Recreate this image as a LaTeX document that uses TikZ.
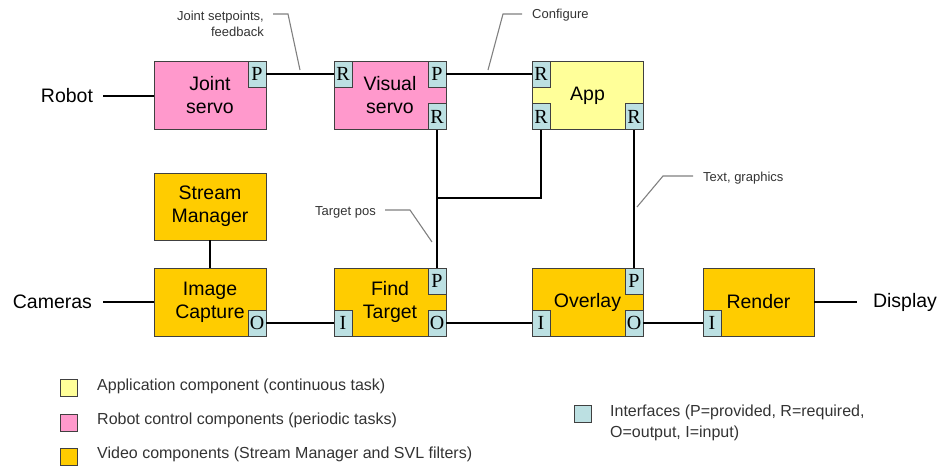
\documentclass[tikz,border=0pt]{standalone}
\usepackage{fontspec}
\setmainfont{Liberation Sans}
\newfontfamily\portfont{Liberation Serif}
\usetikzlibrary{calc}
\definecolor{pinkc}{HTML}{FF99CC}
\definecolor{yellowc}{HTML}{FFFF99}
\definecolor{orangec}{HTML}{FFCC00}
\definecolor{portc}{HTML}{BCE0E2}
\definecolor{boxedge}{HTML}{404040}
\definecolor{calloutc}{HTML}{808080}
\definecolor{legtext}{HTML}{333333}
\begin{document}
\begin{tikzpicture}[x=1pt,y=-1pt,
  comp/.style={draw=boxedge, line width=0.9pt, minimum width=112pt, minimum height=68pt,
    inner sep=0pt, align=center, font=\fontsize{19.5}{23}\selectfont},
  port/.style={draw=boxedge, line width=0.8pt, fill=portc, minimum width=18pt,
    minimum height=26pt, inner sep=0pt, font=\portfont\fontsize{20}{20}\selectfont},
  wire/.style={line width=2pt, black},
  callout/.style={line width=1.1pt, calloutc},
  extlabel/.style={inner sep=0pt, font=\fontsize{19.5}{23}\selectfont},
  clabel/.style={inner sep=0pt, font=\fontsize{13}{16}\selectfont, text=legtext},
  legbox/.style={draw=boxedge, line width=0.8pt, minimum width=17pt, minimum height=17pt, inner sep=0pt},
  legtxt/.style={inner sep=0pt, anchor=west, font=\fontsize{16}{21}\selectfont, text=legtext, align=left}
]
\useasboundingbox (0,0) rectangle (938,466);

% components
\node[comp, fill=pinkc] (js) at (210,95.5) {Joint\\servo};
\node[comp, fill=pinkc] (vs) at (390,95.5) {Visual\\servo};
\node[comp, fill=yellowc, minimum width=111pt] (app) at (587.5,95.5) {App};
\node[comp, fill=orangec, minimum height=67pt] (sm) at (210,206.5) {Stream\\Manager};
\node[comp, fill=orangec] (ic) at (210,302) {Image\\Capture};
\node[comp, fill=orangec] (ft) at (390,302) {Find\\Target};
\node[comp, fill=orangec, minimum width=111pt] (ov) at (587.5,302) {Overlay};
\node[comp, fill=orangec, minimum width=111pt] (rd) at (758.5,302) {Render};

% ports
\node[port, anchor=north east] (jsP) at (js.north east) {P};
\node[port, anchor=north west] (vsR1) at (vs.north west) {R};
\node[port, anchor=north east] (vsP) at (vs.north east) {P};
\node[port, anchor=south east] (vsR2) at (vs.south east) {R};
\node[port, anchor=north west] (appR1) at (app.north west) {R};
\node[port, anchor=south west] (appR2) at (app.south west) {R};
\node[port, anchor=south east] (appR3) at (app.south east) {R};
\node[port, anchor=south east] (icO) at (ic.south east) {O};
\node[port, anchor=north east] (ftP) at (ft.north east) {P};
\node[port, anchor=south west] (ftI) at (ft.south west) {I};
\node[port, anchor=south east] (ftO) at (ft.south east) {O};
\node[port, anchor=north east] (ovP) at (ov.north east) {P};
\node[port, anchor=south west] (ovI) at (ov.south west) {I};
\node[port, anchor=south east] (ovO) at (ov.south east) {O};
\node[port, anchor=south west] (rdI) at (rd.south west) {I};

% external labels
\node[extlabel, anchor=east, outer sep=10pt] (robot) at (103,95.5) {Robot};
\node[extlabel, anchor=east, outer sep=11pt] (cam) at (103,302) {Cameras};
\node[extlabel, anchor=west, outer sep=16pt] (disp) at (857,302) {Display};

% connectors
\draw[wire] (robot.east) -- (robot.east -| js.west);
\draw[wire] (cam.east) -- (cam.east -| ic.west);
\draw[wire] (rd.east) -- (rd.east -| disp.west);
\draw[wire] (jsP.east) -- (vsR1.west);
\draw[wire] (vsP.east) -- (appR1.west);
\draw[wire] (vsR2.south) -- (ftP.north);
\coordinate (jn) at (vsR2.south |- 0,198);
\draw[wire] (appR2.south) |- (jn);
\draw[wire] (appR3.south) -- (ovP.north);
\draw[wire] (sm.south) -- (ic.north);
\draw[wire] (icO.east) -- (ftI.west);
\draw[wire] (ftO.east) -- (ovI.west);
\draw[wire] (ovO.east) -- (rdI.west);

% callouts
\node[clabel, anchor=east, align=right] (cjs) at (264,24) {Joint setpoints,\\feedback};
\coordinate (cjs1) at (273,14); \coordinate (cjs2) at (288,14); \coordinate (cjs3) at (300,70);
\draw[callout] (cjs1) -- (cjs2) -- (cjs3);

\node[clabel, anchor=west] (ccf) at (532,15) {Configure};
\coordinate (ccf1) at (522,14); \coordinate (ccf2) at (503,14); \coordinate (ccf3) at (488,70);
\draw[callout] (ccf1) -- (ccf2) -- (ccf3);

\node[clabel, anchor=west] (ctg) at (703,178) {Text, graphics};
\coordinate (ctg1) at (693,176); \coordinate (ctg2) at (663,176); \coordinate (ctg3) at (637,207);
\draw[callout] (ctg1) -- (ctg2) -- (ctg3);

\node[clabel, anchor=east] (ctp) at (376,212) {Target pos};
\coordinate (ctp1) at (385,210); \coordinate (ctp2) at (410,210); \coordinate (ctp3) at (432,242);
\draw[callout] (ctp1) -- (ctp2) -- (ctp3);

% legend
\node[legbox, fill=yellowc] (lg1) at (68.5,387.5) {};
\node[legtxt] (lt1) at (97,386) {Application component (continuous task)};
\node[legbox, fill=pinkc] (lg2) at (68.5,422.5) {};
\node[legtxt] (lt2) at (97,420) {Robot control components (periodic tasks)};
\node[legbox, fill=orangec] (lg3) at (68.5,456.5) {};
\node[legtxt] (lt3) at (97,454) {Video components (Stream Manager and SVL filters)};
\node[legbox, fill=portc] (lg4) at (583,413.5) {};
\node[legtxt] (lt4) at (610,422.5) {Interfaces (P=provided, R=required,\\O=output, I=input)};
\end{tikzpicture}
\end{document}
